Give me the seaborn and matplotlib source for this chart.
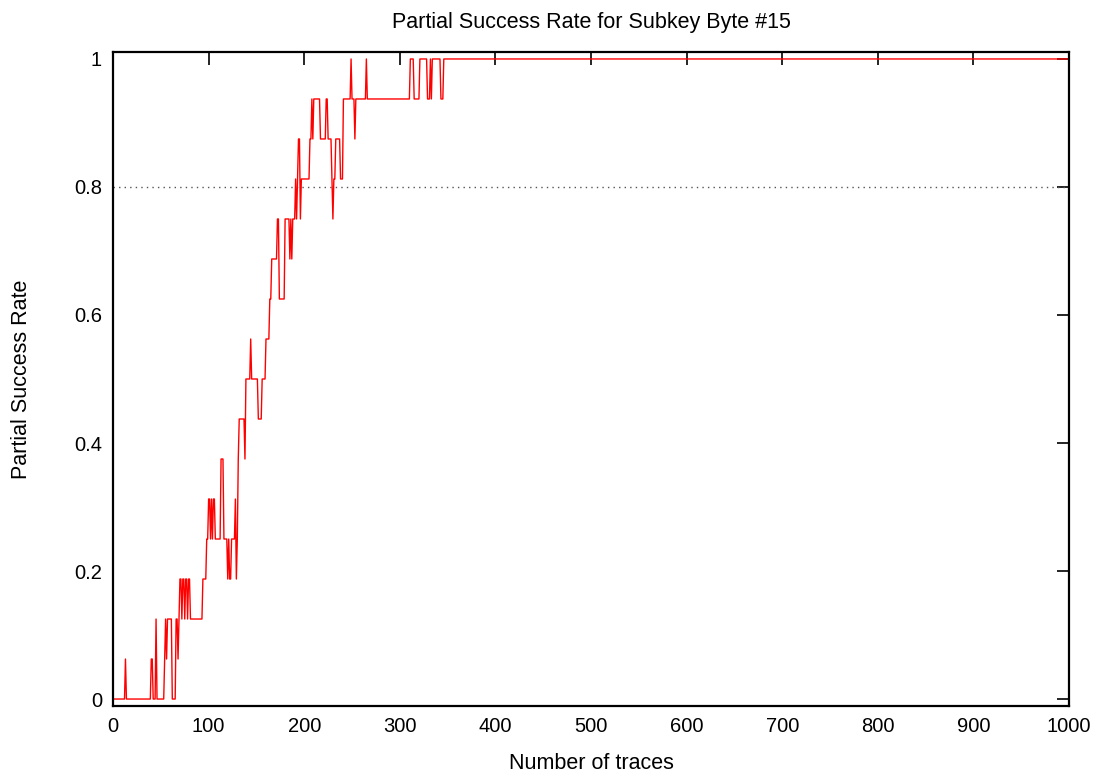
import numpy as np
import pandas as pd
import matplotlib
matplotlib.use("Agg")
import matplotlib.pyplot as plt
import seaborn as sns

# Run-length description of the partial success rate: the trace count at which
# each run starts, and the rate during that run in sixteenths (16 subkey bits).
run_start = [
    0, 13, 14, 40, 42, 45, 46, 54, 55, 56, 57, 62, 66, 68, 69, 70, 72, 73,
    75, 76, 78, 79, 81, 94, 98, 100, 102, 103, 104, 105, 107, 113, 116, 120,
    121, 122, 124, 128, 129, 130, 131, 132, 138, 139, 144, 145, 152, 156, 160,
    164, 166, 172, 174, 180, 185, 186, 187, 188, 191, 192, 193, 194, 196, 197,
    206, 208, 209, 210, 217, 223, 225, 229, 230, 231, 233, 238, 241, 249, 250,
    253, 254, 265, 266, 311, 315, 321, 329, 332, 333, 334, 343, 346,
]
run_level = [
    0, 1, 0, 1, 0, 2, 0, 1, 2, 1, 2, 0, 2, 1, 2, 3, 2, 3,
    2, 3, 2, 3, 2, 3, 4, 5, 4, 5, 4, 5, 4, 6, 4, 3,
    4, 3, 4, 5, 3, 4, 6, 7, 6, 8, 9, 8, 7, 8, 9,
    10, 11, 12, 10, 12, 11, 12, 11, 12, 13, 12, 13, 14, 12, 13,
    14, 15, 14, 15, 14, 15, 14, 13, 12, 13, 14, 13, 15, 16, 15,
    14, 15, 16, 15, 16, 15, 16, 15, 16, 15, 16, 15, 16,
]
last_trace = 1000
key_bits = 16
threshold = 0.8

x_ticks = [0, 100, 200, 300, 400, 500, 600, 700, 800, 900, 1000]
y_ticks = [0, 0.2, 0.4, 0.6, 0.8, 1.0]
y_tick_labels = ["0", "0.2", "0.4", "0.6", "0.8", "1"]

# Each run contributes its first and last trace as vertices of the polyline.
run_end = [s - 1 for s in run_start[1:]] + [last_trace]
xs, ys = [], []
for s, e, k in zip(run_start, run_end, run_level):
    xs.append(s)
    ys.append(k / key_bits)
    if e != s:
        xs.append(e)
        ys.append(k / key_bits)
df = pd.DataFrame({"traces": xs, "rate": ys})

sns.set_theme(style="white")
plt.rcParams["font.family"] = ["Liberation Sans", "DejaVu Sans"]

fig = plt.figure(figsize=(11.05, 7.76), dpi=100)
ax = fig.add_axes([0.1023, 0.0902, 0.8651, 0.8428])

ax.axhline(threshold, color="#555555", lw=1.0, ls=(0, (1, 3)), zorder=1)
sns.lineplot(data=df, x="traces", y="rate", estimator=None, sort=False,
             color="red", lw=1.0, ax=ax, zorder=2)

ax.set_xlim(0, 1000)
ax.set_ylim(-0.0109, 1.0109)
ax.set_xticks(x_ticks)
ax.set_xticklabels([str(t) for t in x_ticks])
ax.set_yticks(y_ticks)
ax.set_yticklabels(y_tick_labels)
ax.tick_params(direction="in", length=9, width=1.2, color="black",
               top=True, right=True, labelsize=14.5, pad=8,
               labelcolor="black")
for sp in ax.spines.values():
    sp.set_visible(True)
    sp.set_color("black")
    sp.set_linewidth(1.6)

ax.set_xlabel("Number of traces", fontsize=15.5, color="black", labelpad=12)
ax.set_ylabel("Partial Success Rate", fontsize=15.5, color="black", labelpad=30)
ax.set_title("Partial Success Rate for Subkey Byte #15", fontsize=15.5,
             color="black", pad=17)
ax.grid(False)

fig.savefig("out.png", dpi=100, facecolor="white")
